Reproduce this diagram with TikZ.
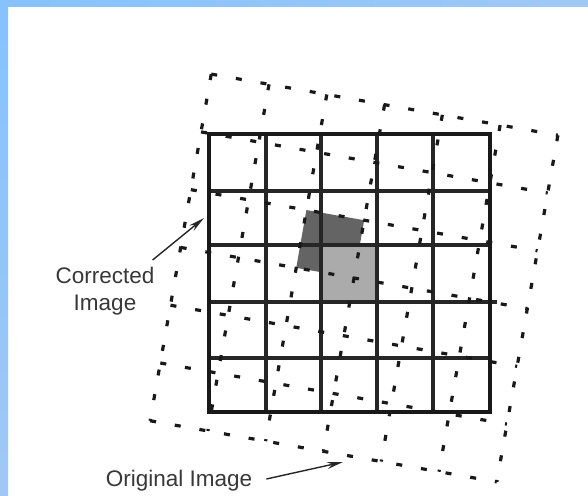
\documentclass[tikz,border=0pt]{standalone}
\usepackage{fontspec}
\setmainfont{Liberation Sans}
\usetikzlibrary{arrows.meta}
\definecolor{frameA}{HTML}{86C2FF}
\definecolor{frameB}{HTML}{A0C8F4}
\definecolor{darkcell}{HTML}{646464}
\definecolor{lightcell}{HTML}{ABABAB}
\begin{document}
\begin{tikzpicture}[x=1pt,y=-1pt,
  gridline/.style={line width=3.2pt,black!85},
  outerline/.style={line width=3.4pt,black!90},
  dashline/.style={line width=3.2pt,black!90,dash pattern=on 6pt off 19pt},
  labeltext/.style={font=\fontsize{22.5}{27}\selectfont,text=black!78,inner sep=0pt},
  pointer/.style={line width=1.4pt,black!85,-{Stealth[length=16pt,width=7pt]}}]
\useasboundingbox (0,0) rectangle (588,495);
\fill[white] (0,0) rectangle (588,495);
\shade[left color=frameA,right color=frameB] (0,0) rectangle (588,7);
\shade[top color=frameA,bottom color=frameB] (0,0) rectangle (8,495);
% original (rotated) image: dark cell
\begin{scope}[shift={(354,278)},rotate=-10]
  \fill[darkcell] (-58.667,-58.667) rectangle (0,0);
\end{scope}
% corrected cell
\fill[lightcell] (321,245) rectangle (377,302);
% corrected grid
\foreach \x in {266,321,377,433}
  \draw[gridline] (\x,134) -- (\x,412);
\foreach \y in {191,245,358}
  \draw[gridline] (209,\y) -- (490,\y);
\draw[gridline] (209,302) -- (497,302);
\draw[outerline] (209,134) rectangle (490,412);
% original grid (dashed, rotated)
\begin{scope}[shift={(354,278)},rotate=-10]
  \foreach \i in {0,...,6} {
    \draw[dashline] ({-176+\i*58.667},-176) -- ({-176+\i*58.667},176);
    \draw[dashline] (-176,{-176+\i*58.667}) -- (176,{-176+\i*58.667});
  }
\end{scope}
% labels
\node[labeltext,align=center,anchor=north] (corr) at (105,267) {Corrected\\Image};
\node[labeltext,anchor=base] (orig) at (179,486) {Original Image};
\coordinate (corrtip) at (204,218);
\coordinate (origtip) at (343,462);
\draw[pointer] ([shift={(-2,-7)}]corr.north east) -- (corrtip);
\draw[pointer] ([shift={(14,-7)}]orig.base east) -- (origtip);
\end{tikzpicture}
\end{document}
